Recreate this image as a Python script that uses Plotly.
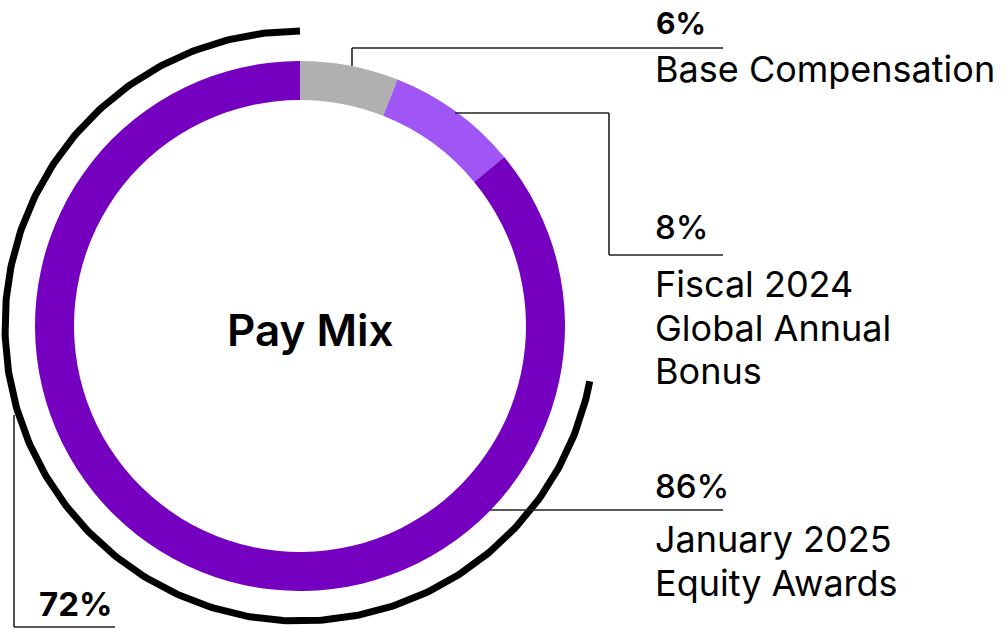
import numpy as np
import plotly.graph_objects as go

# ---- data ----
categories = [["Base Compensation"], ["Fiscal 2024", "Global Annual", "Bonus"], ["January 2025", "Equity Awards"]]
values = [6, 8, 86]
pct_labels = ["6%", "8%", "86%"]
slice_colors = ["#B0B0B0", "#A055F5", "#7500C0"]
outer_value = 72
outer_label = "72%"
center_title = "Pay Mix"

W, H = 1006, 629
CX, CY, R = 300, 326, 265
HOLE = 226 / 265
ARC_R = 295
FONT = "Inter, Roboto, sans-serif"

fig = go.Figure()

# donut
fig.add_trace(go.Pie(
    values=values, labels=[" ".join(c) for c in categories],
    marker=dict(colors=slice_colors, line=dict(width=0)),
    hole=HOLE, sort=False, direction="clockwise", rotation=0,
    textinfo="none", hoverinfo="label+percent", showlegend=False,
    domain=dict(x=[(CX - R) / W, (CX + R) / W], y=[(H - CY - R) / H, (H - CY + R) / H]),
))

# outer black arc (72% of the circle, counter-clockwise from top)
t = np.linspace(0, -2 * np.pi * outer_value / 100, 400)
fig.add_trace(go.Scatter(
    x=CX + ARC_R * np.sin(t), y=CY - ARC_R * np.cos(t),
    mode="lines", line=dict(color="black", width=7),
    hoverinfo="skip", showlegend=False,
))

# callout lines
line_style = dict(color="#222222", width=1.6)
callouts = [
    [(352, 66), (352, 48), (723, 48)],
    [(455, 113), (609, 113), (609, 255), (723, 255)],
    [(490, 510), (723, 510)],
    [(14, 415), (14, 627), (115, 627)],
]
for pts in callouts:
    for (x0, y0), (x1, y1) in zip(pts[:-1], pts[1:]):
        fig.add_shape(type="line", x0=x0, y0=y0, x1=x1, y1=y1, xref="x", yref="y",
                      line=line_style, layer="above")

def note(text, x, y, size, weight=400, xanchor="left"):
    fig.add_annotation(text=text, x=x, y=y, xref="x", yref="y", showarrow=False,
                       xanchor=xanchor, yanchor="middle", align="left",
                       font=dict(family=FONT, size=size, color="black", weight=weight))

PSIZE = 33
BSIZE = 36
LINE_GAP = 43.5
# percentage labels
note(pct_labels[0], 654, 23, 30, 700)
note(pct_labels[1], 653, 227, PSIZE, 500)
note(pct_labels[2], 653, 486, PSIZE, 500)
note(outer_label, 37, 604, PSIZE, 700)
# category labels
for lines, y0 in zip(categories, [69, 284, 539]):
    for i, ln in enumerate(lines):
        note(ln, 653, y0 + i * LINE_GAP, BSIZE)
# center title
note(center_title, 310, 330, 44, 600, xanchor="center")

fig.update_layout(
    width=W, height=H, margin=dict(l=0, r=0, t=0, b=0),
    paper_bgcolor="white", plot_bgcolor="white",
    xaxis=dict(range=[0, W], visible=False, fixedrange=True),
    yaxis=dict(range=[H, 0], visible=False, fixedrange=True),
    font=dict(family=FONT),
)

fig.write_html("out.html", config={"displayModeBar": False},
               post_script="document.body.style.margin='0px';")
